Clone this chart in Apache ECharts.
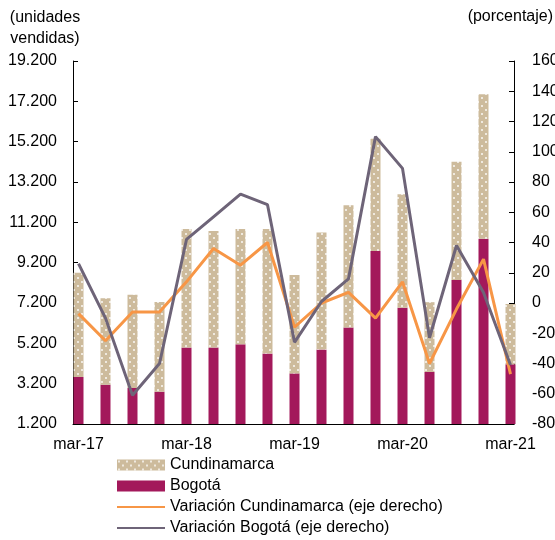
<!DOCTYPE html>
<html>
<head>
<meta charset="utf-8" />
<title></title>
<script type="text/javascript" src="https://cdn.jsdelivr.net/npm/echarts@6/dist/echarts.min.js"></script>
<style>
	html, body { margin: 0; padding: 0; width: 100%; height: 100%; background: #fff; }
</style>
</head>
<body>
<div id="container" style="width: 555px;height: 540px"></div>
<script>
// trimestres
var quarters = ['mar-17', 'jun-17', 'sep-17', 'dic-17', 'mar-18', 'jun-18', 'sep-18', 'dic-18',
	'mar-19', 'jun-19', 'sep-19', 'dic-19', 'mar-20', 'jun-20', 'sep-20', 'dic-20', 'mar-21'];
var labelIdx = [0, 4, 8, 12, 16];
var leftTicks = [1200, 3200, 5200, 7200, 9200, 11200, 13200, 15200, 17200, 19200];

// unidades vendidas
var bogota = [3530, 3150, 2990, 2800, 4990, 4990, 5150, 4690, 3710, 4890, 5980, 9780, 6970, 3780, 8340, 10390, 4160];
var cundinamarca = [5170, 4280, 4620, 4450, 5880, 5780, 5720, 6180, 4880, 5800, 6070, 5570, 5620, 3460, 5870, 7160, 2990];

// variacion anual (%)
var varCund = [-7, -25, -6, -6, 14, 36, 25, 40, -16, 0, 7, -10, 14, -40, -4, 29, -47];
var varBog = [26, -10, -61, -40, 42, 57, 72, 65, -26, 1, 16, 110, 89, -23, 38, 7, -41];

var font = 'Liberation Sans, Arial, sans-serif';

// patron punteado para Cundinamarca
var tile = document.createElement('canvas');
tile.width = 8; tile.height = 8;
var ctx = tile.getContext('2d');
ctx.fillStyle = '#CDBB9C';
ctx.fillRect(0, 0, 8, 8);
ctx.fillStyle = 'rgba(255,255,255,0.9)';
ctx.beginPath(); ctx.arc(2, 2, 1, 0, Math.PI * 2); ctx.fill();
ctx.beginPath(); ctx.arc(6, 6, 1, 0, Math.PI * 2); ctx.fill();

function miles(v) {
	return String(v).replace(/\B(?=(\d{3})+(?!\d))/g, '.');
}

var myChart = echarts.init(document.getElementById('container'));
var option = {
	animation: false,
	textStyle: { fontFamily: font },
	title: [{
		text: '(unidades\nvendidas)',
		left: 45,
		top: 7,
		padding: 0,
		textAlign: 'center',
		textStyle: { fontSize: 16, fontWeight: 'normal', color: '#000', lineHeight: 21, fontFamily: font }
	}, {
		text: '(porcentaje)',
		right: 2,
		top: 9,
		padding: 0,
		textStyle: { fontSize: 16, fontWeight: 'normal', color: '#000', fontFamily: font }
	}],
	legend: {
		orient: 'vertical',
		left: 116,
		top: 457,
		height: 100,
		padding: 0,
		itemWidth: 48,
		itemHeight: 11,
		itemGap: 5,
		textStyle: { fontSize: 16, color: '#000', lineHeight: 16, fontFamily: font },
		data: [
			{ name: 'Cundinamarca', icon: 'rect' },
			{ name: 'Bogotá', icon: 'rect' },
			{ name: 'Variación Cundinamarca (eje derecho)', itemStyle: { opacity: 0 } },
			{ name: 'Variación Bogotá (eje derecho)', itemStyle: { opacity: 0 } }
		]
	},
	// grid 0: ejes visibles, grid 1: marcas
	grid: [
		{ left: 73, right: 41, top: 61, bottom: 116, containLabel: false, outerBoundsMode: 'none' },
		{ left: 78.5, right: 44.5, top: 61, bottom: 116, containLabel: false, outerBoundsMode: 'none' }
	],
	xAxis: [{
		type: 'value',
		gridIndex: 0,
		min: -0.2037,
		max: 16.13,
		splitLine: { show: false },
		axisLine: { show: true, onZero: false, lineStyle: { color: '#000', width: 1 } },
		axisTick: { show: true, inside: true, length: 5, customValues: [-0.17, 3.83, 7.83, 11.83, 15.83], lineStyle: { color: '#000' } },
		axisLabel: {
			customValues: labelIdx,
			formatter: function(v) { return quarters[Math.round(v)]; },
			margin: 13,
			fontSize: 16,
			color: '#000',
			fontFamily: font
		}
	}, {
		type: 'category',
		gridIndex: 1,
		boundaryGap: false,
		data: quarters,
		show: false
	}],
	yAxis: [{
		type: 'value',
		gridIndex: 0,
		min: 1200,
		max: 19200,
		splitLine: { show: false },
		axisLine: { show: true, onZero: false, lineStyle: { color: '#000', width: 1 } },
		axisTick: { show: true, inside: true, length: 5, customValues: leftTicks, lineStyle: { color: '#000' } },
		axisLabel: { customValues: leftTicks, formatter: miles, margin: 16, fontSize: 16, color: '#000', fontFamily: font }
	}, {
		type: 'value',
		gridIndex: 0,
		position: 'right',
		min: -80,
		max: 160,
		interval: 20,
		splitLine: { show: false },
		axisLine: { show: true, onZero: false, lineStyle: { color: '#000', width: 1 } },
		axisTick: { show: true, inside: true, length: 5, lineStyle: { color: '#000' } },
		axisLabel: { margin: 18, fontSize: 16, color: '#000', fontFamily: font }
	}, {
		type: 'value',
		gridIndex: 1,
		min: 1200,
		max: 19200,
		show: false
	}, {
		type: 'value',
		gridIndex: 1,
		position: 'right',
		min: -80,
		max: 160,
		show: false
	}],
	series: [{
		name: 'Bogotá',
		type: 'bar',
		xAxisIndex: 1,
		yAxisIndex: 2,
		stack: 'ventas',
		barWidth: 10,
		itemStyle: { color: '#A3195B' },
		data: bogota
	}, {
		name: 'Cundinamarca',
		type: 'bar',
		xAxisIndex: 1,
		yAxisIndex: 2,
		stack: 'ventas',
		barWidth: 10,
		itemStyle: { color: { image: tile, repeat: 'repeat' } },
		data: cundinamarca
	}, {
		name: 'Variación Cundinamarca (eje derecho)',
		type: 'line',
		xAxisIndex: 1,
		yAxisIndex: 3,
		symbol: 'none',
		lineStyle: { color: '#F79646', width: 3 },
		itemStyle: { color: '#F79646' },
		data: varCund
	}, {
		name: 'Variación Bogotá (eje derecho)',
		type: 'line',
		xAxisIndex: 1,
		yAxisIndex: 3,
		symbol: 'none',
		lineStyle: { color: '#6E6478', width: 3 },
		itemStyle: { color: '#6E6478' },
		data: varBog
	}]
};
myChart.setOption(option);
</script>
</body>
</html>
